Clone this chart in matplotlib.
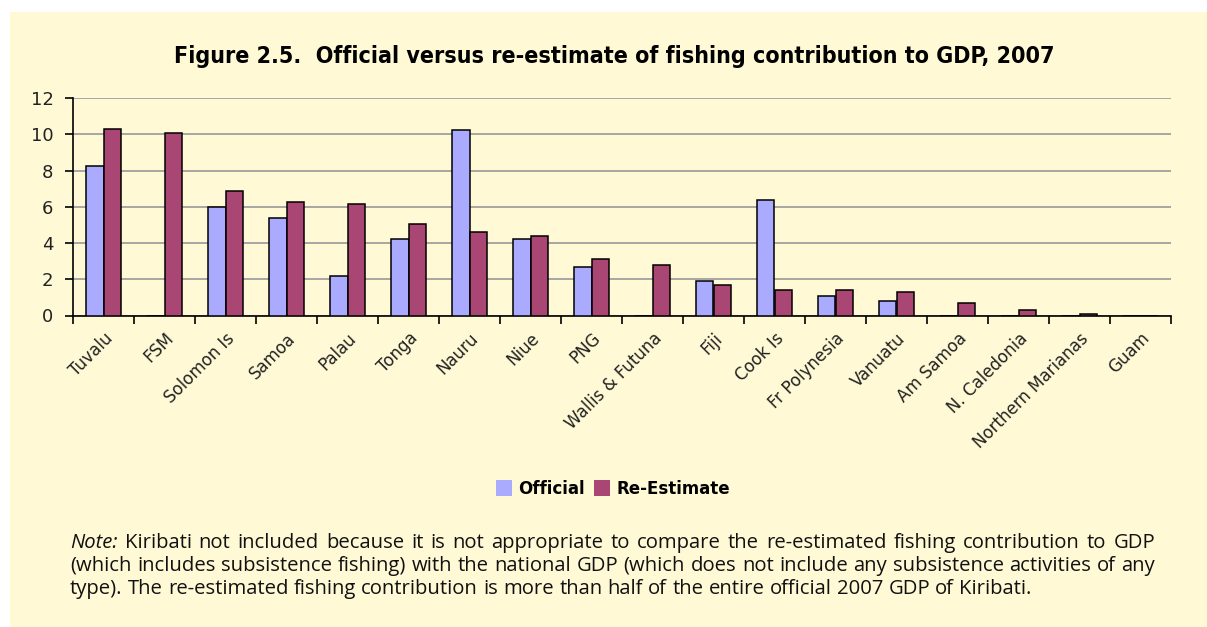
import matplotlib
matplotlib.use('Agg')
import matplotlib.pyplot as plt
import numpy as np
from matplotlib.patches import Rectangle

# data
countries = ['Tuvalu', 'FSM', 'Solomon Is', 'Samoa', 'Palau', 'Tonga', 'Nauru', 'Niue', 'PNG',
             'Wallis & Futuna', 'Fiji', 'Cook Is', 'Fr Polynesia', 'Vanuatu', 'Am Samoa',
             'N. Caledonia', 'Northern Marianas', 'Guam']
official = [8.25, 0, 6.0, 5.4, 2.2, 4.2, 10.25, 4.2, 2.7, 0, 1.9, 6.35, 1.1, 0.8, 0, 0, 0, 0]
re_estimate = [10.3, 10.05, 6.85, 6.25, 6.15, 5.05, 4.6, 4.4, 3.1, 2.8, 1.7, 1.4, 1.4, 1.3, 0.7, 0.3, 0.1, 0]

title = 'Figure 2.5.  Official versus re-estimate of fishing contribution to GDP, 2007'
note_lines = [
    'Kiribati not included because it is not appropriate to compare the re-estimated fishing contribution to GDP',
    '(which includes subsistence fishing) with the national GDP (which does not include any subsistence activities of any',
    'type). The re-estimated fishing contribution is more than half of the entire official 2007 GDP of Kiribati.',
]

bg = '#FFFAD5'
c_off = '#AAAAFF'
c_re = '#AA4673'

W, H = 1207, 627
fig = plt.figure(figsize=(W / 100, H / 100), dpi=100)
fig.patch.set_facecolor('white')
fig.patches.append(Rectangle((10 / W, 0), 1 - 10 / W, 1 - 12 / H, transform=fig.transFigure,
                             facecolor=bg, edgecolor='none', zorder=-10))

ax = fig.add_axes([73 / W, 1 - 315.5 / H, (1171 - 73) / W, (315.5 - 98) / H])
ax.set_facecolor('none')

x = np.arange(len(countries))
bw = 0.295
ax.bar(x - bw / 2, official, bw, color=c_off, edgecolor='black', linewidth=1.1, label='Official', zorder=3)
ax.bar(x + bw / 2, re_estimate, bw, color=c_re, edgecolor='black', linewidth=1.1, label='Re-Estimate', zorder=3)

ax.set_xlim(-0.5, len(countries) - 0.5)
ax.set_ylim(0, 12)
ax.set_yticks(range(0, 13, 2))
ax.yaxis.grid(True, color='#A0A0A0', linewidth=1.3, zorder=0)
for s in ['top', 'right']:
    ax.spines[s].set_visible(False)
ax.spines['left'].set_linewidth(1.2)
ax.spines['bottom'].set_linewidth(1.2)

ax.set_xticks(x)
ax.set_xticklabels(countries, rotation=45, ha='right', rotation_mode='anchor', fontsize=12, color='#222222')
ax.set_xticks(np.arange(-0.5, len(countries)), minor=True)
ax.tick_params(axis='x', which='major', length=0, pad=10)
ax.tick_params(axis='x', which='minor', length=6, width=1.2, direction='out')
ax.tick_params(axis='y', length=6, width=1.2, labelsize=13, pad=8, labelcolor='#222222')

fig.canvas.draw()
r = fig.canvas.get_renderer()

# title, sized to the reference width
tt = fig.text(614 / W, 1 - 56 / H, title, ha='center', va='center', fontsize=17, fontweight='bold',
              fontstretch='condensed', family='DejaVu Sans')
tw = tt.get_window_extent(r).width
tt.set_fontsize(17 * 880 / tw)

leg = fig.legend(loc='center', bbox_to_anchor=(613 / W, 1 - 489 / H), ncol=2, frameon=False,
                 handlelength=0.85, handleheight=0.95, handletextpad=0.35, columnspacing=0.5,
                 prop={'weight': 'bold', 'size': 13.3, 'family': 'DejaVu Sans', 'stretch': 'condensed'})
for p in leg.get_patches():
    p.set_edgecolor('none')

# justified note text
left, right = 70, 1155
baselines = [548, 571, 594]
fam = ['Open Sans', 'DejaVu Sans']
probe = fig.text(0, 0, note_lines[2], fontsize=14, family=fam)
fs = 14 * 968 / probe.get_window_extent(r).width
probe.remove()
for i, line in enumerate(note_lines):
    items = []
    if i == 0:
        items.append(('Note:', 'italic'))
    items += [(w, 'normal') for w in line.split(' ')]
    texts = [fig.text(0, 0, w, fontsize=fs, family=fam, style=st, color='#111111',
                      va='baseline', ha='left') for w, st in items]
    widths = [t.get_window_extent(r).width for t in texts]
    if i < len(note_lines) - 1:
        gap = (right - left - sum(widths)) / (len(texts) - 1)
    else:
        sp = fig.text(0, 0, 'a a', fontsize=fs, family=fam)
        sa = fig.text(0, 0, 'aa', fontsize=fs, family=fam)
        gap = sp.get_window_extent(r).width - sa.get_window_extent(r).width
        sp.remove()
        sa.remove()
    xpos = left
    for t, wdt in zip(texts, widths):
        t.set_position((xpos / W, 1 - baselines[i] / H))
        xpos += wdt + gap

fig.savefig('out.png', dpi=100, facecolor=fig.get_facecolor())
